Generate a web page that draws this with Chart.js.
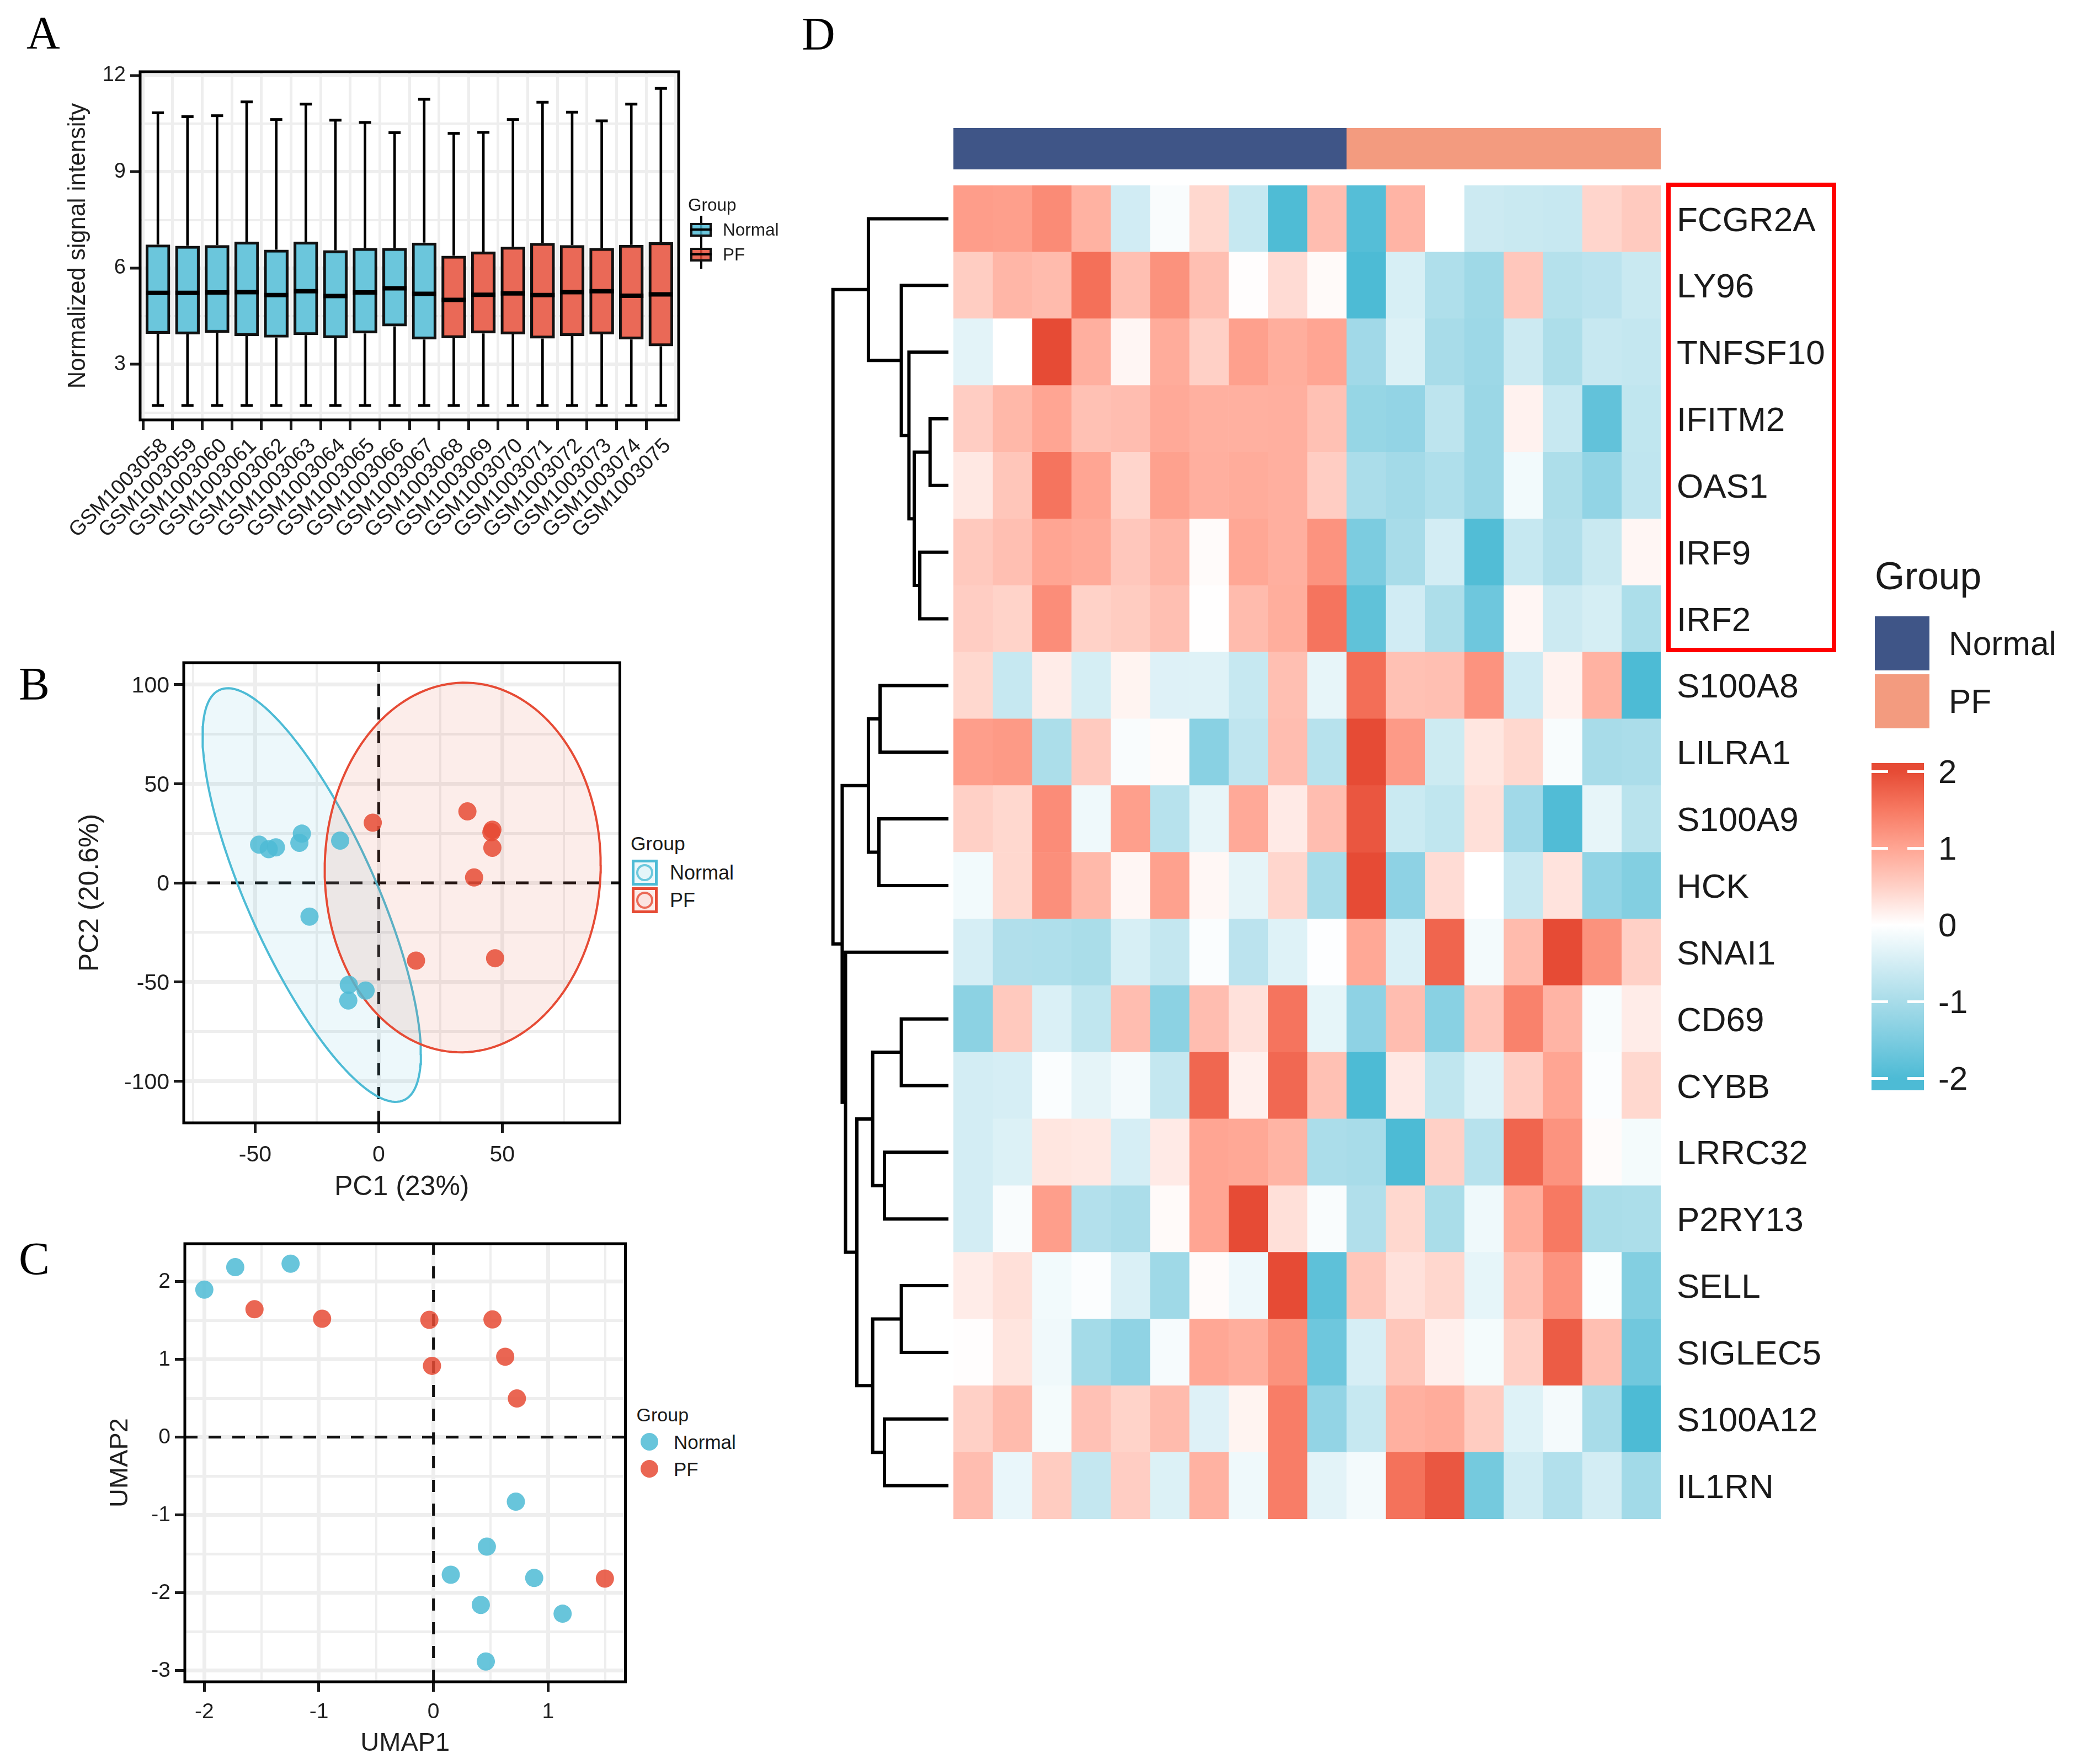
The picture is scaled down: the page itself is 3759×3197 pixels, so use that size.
<!DOCTYPE html>
<html><head><meta charset="utf-8">
<script src="https://cdn.jsdelivr.net/npm/chart.js@4/dist/chart.umd.js"></script>
<style>
html,body{margin:0;padding:0;background:#fff;width:3759px;height:3197px;overflow:hidden}
canvas{position:absolute;display:block}
.t{position:absolute;white-space:nowrap;line-height:1;transform:translateY(-50%);font-family:"Liberation Sans",Arial,sans-serif;color:#1a1a1a}
.p{position:absolute;line-height:1;font-family:"Liberation Serif","Times New Roman",serif;color:#000;font-size:84px}
.b{position:absolute;box-sizing:border-box}
</style></head><body>
<script>
// ---------- Panel A: boxplots ----------
const samples=["GSM1003058","GSM1003059","GSM1003060","GSM1003061","GSM1003062","GSM1003063","GSM1003064","GSM1003065","GSM1003066","GSM1003067","GSM1003068","GSM1003069","GSM1003070","GSM1003071","GSM1003072","GSM1003073","GSM1003074","GSM1003075"];
const normalSampleCount=10;
const whiskerHigh=[10.84,10.72,10.75,11.18,10.63,11.11,10.61,10.54,10.22,11.26,10.2,10.23,10.63,11.17,10.86,10.59,11.11,11.6];
const whiskerLow=[1.72,1.72,1.72,1.72,1.72,1.72,1.72,1.72,1.72,1.72,1.72,1.72,1.72,1.72,1.72,1.72,1.72,1.72];
const q3=[6.73,6.69,6.71,6.82,6.57,6.82,6.55,6.62,6.62,6.79,6.38,6.51,6.66,6.78,6.71,6.62,6.72,6.80];
const medians=[5.23,5.23,5.24,5.25,5.16,5.28,5.13,5.24,5.37,5.20,5.01,5.17,5.21,5.16,5.25,5.28,5.14,5.18];
const q1=[3.96,3.94,3.99,3.89,3.84,3.92,3.82,3.97,4.19,3.78,3.82,3.97,3.94,3.81,3.89,3.94,3.78,3.57];
// ---------- Panel B: PCA ----------
const pcaNormalX=[-48.4,-44.5,-41.6,-32.1,-31.1,-15.6,-28,-12.1,-5.3,-12.3];
const pcaNormalY=[19.3,17,17.9,20.2,24.8,21.3,-17,-51.4,-54.3,-59.3];
const pcaPfX=[35.9,-2.4,45.6,46,46,38.6,15.1,47.1];
const pcaPfY=[36,30.3,25.5,26.8,17.7,2.7,-39.2,-38];
// ---------- Panel C: UMAP ----------
const umapNormalX=[-2.0,-1.73,-1.247,0.719,0.466,0.151,0.879,0.413,1.127,0.457];
const umapNormalY=[1.895,2.184,2.229,-0.83,-1.408,-1.769,-1.81,-2.157,-2.27,-2.884];
const umapPfX=[-1.562,-0.972,-0.036,0.515,0.626,-0.013,0.728,1.496];
const umapPfY=[1.643,1.521,1.507,1.512,1.033,0.916,0.496,-1.819];
// ---------- Panel D: heatmap ----------
const genes=["FCGR2A","LY96","TNFSF10","IFITM2","OAS1","IRF9","IRF2","S100A8","LILRA1","S100A9","HCK","SNAI1","CD69","CYBB","LRRC32","P2RY13","SELL","SIGLEC5","S100A12","IL1RN"];
const heat=[
[1.09,1.07,1.3,.85,-.52,-.07,.42,-.65,-1.98,.72,-1.92,.82,0,-.58,-.62,-.64,.45,.57],
[.54,.8,.75,1.6,.7,1.22,.7,.02,.38,.05,-2,-.45,-.92,-1.1,.6,-.85,-.78,-.62],
[-.32,0,2,.88,.1,.92,.5,1.06,.9,1,-1.08,-.4,-1,-1.12,-.58,-.94,-.64,-.68],
[.53,.78,1,.68,.72,.95,.87,.87,.88,.68,-1.2,-1.24,-.76,-1.15,.14,-.64,-1.78,-.72],
[.25,.62,1.55,1,.45,1.05,.88,.92,.88,.53,-.97,-1.06,-.92,-1.15,-.15,-.94,-1.25,-.73],
[.58,.7,1,.94,.6,.8,.04,.98,.88,1.2,-1.5,-1,-.5,-1.95,-.65,-.9,-.62,.1],
[.53,.47,1.27,.48,.55,.7,.01,.75,.9,1.55,-1.8,-.52,-.94,-1.65,.1,-.58,-.48,-.95],
[.42,-.65,.2,-.48,.12,-.38,-.36,-.65,.7,-.27,1.62,.68,.7,1.2,-.55,.14,.85,-2],
[1.08,1.13,-.95,.57,-.07,.05,-1.35,-.73,.72,-.82,2,1.12,-.57,.27,.42,-.08,-1,-.97],
[.5,.42,1.28,-.18,1.07,-.83,-.27,.95,.22,.72,1.88,-.6,-.72,.33,-1.08,-1.96,-.27,-.8],
[-.15,.42,1.25,.77,.1,1.05,.09,-.3,.44,-1,2,-1.3,.37,0,-.64,.3,-1.25,-1.42],
[-.47,-.9,-.92,-.98,-.45,-.68,-.06,-.78,-.37,-.02,.97,-.42,1.72,-.14,.75,2,1.22,.5],
[-1.32,.58,-.42,-.72,.72,-1.32,.72,.32,1.55,-.28,-1.3,.72,-1.35,.63,1.4,.82,-.08,.2],
[-.5,-.47,-.06,-.3,-.13,-.68,1.7,.16,1.68,.68,-2,.24,-.72,-.36,.52,1,-.05,.42],
[-.5,-.4,.27,.25,-.47,.22,1,.97,.83,-.97,-1,-2,.5,-.82,1.72,1.2,.04,-.12],
[-.5,-.07,1.08,-.87,-.97,.05,1,2,.33,-.07,-.9,.42,-.98,-.18,.9,1.5,-.98,-.95],
[.2,.33,-.15,-.05,-.42,-1.1,.04,-.2,2,-1.82,.62,.32,.43,-.28,.7,1.2,-.04,-1.42],
[.02,.28,-.17,-1.04,-1.27,-.1,.98,.9,1.22,-1.65,-.47,.62,.17,-.12,.5,1.82,.7,-1.62],
[.5,.75,-.12,.67,.47,.75,-.38,.12,1.45,-1.24,-.65,.87,.92,.55,-.37,-.13,-1,-2],
[.72,-.25,.55,-.67,.53,-.4,.85,-.18,1.45,-.32,-.14,1.58,1.87,-1.57,-.53,-.88,-.5,-1.07]];
const groupColumns=[10,8];
// Merge heights of the gene dendrogram: [height, upper child, lower child]; a number is a row.
const dendroTree=[10,[6.93,0,[4.08,1,[3.42,2,[2.96,[1.59,3,4],[2.48,5,6]]]]],
 [9.2,[6.93,[5.92,7,8],[6.02,9,10]],[8.91,11,[7.93,[6.56,[4.08,12,13],[5.54,14,15]],[6.56,[4.08,16,17],[5.54,18,19]]]]]];
const colorbarTicks=[-2,-1,0,1,2];
const colorbarRange=[-2.158,2.108];
// Colour ramp of the heatmap.
const rampZ=[-2,-1.5,-1,-.5,0,.5,1,1.5,2];
const rampRGB=[[77,187,213],[124,204,224],[168,220,233],[211,237,244],[255,255,255],[255,208,198],[255,165,147],[247,121,98],[230,75,53]];

const BLUE='#4DBBD5',RED='#E64B35',NAVY='#3F5587',SALMON='#F39B7F';
const SANS='"Liberation Sans",Arial,sans-serif';
const GRID='#EEEEEE',INK='#1f1f1f';
Chart.defaults.font.family=SANS;

function rgba(h,a){const n=parseInt(h.slice(1),16);return `rgba(${n>>16},${(n>>8)&255},${n&255},${a})`;}
function heatColor(z){const v=Math.max(-2,Math.min(2,z));let i=0;while(i<rampZ.length-2&&v>rampZ[i+1])i++;
 const f=(v-rampZ[i])/(rampZ[i+1]-rampZ[i]);
 return `rgb(${rampRGB[i].map((c,k)=>Math.round(c+(rampRGB[i+1][k]-c)*f)).join(',')})`;}
function zip(xs,ys){return xs.map((x,i)=>({x,y:ys[i]}));}
function el(cls,css,text){const d=document.createElement('div');d.className=cls;Object.assign(d.style,css);if(text!=null)d.textContent=text;document.body.appendChild(d);return d;}
function txt(s,x,y,size){return el('t',{left:x+'px',top:y+'px',fontSize:size+'px'},s);}
function box(x,y,w,h,css){return el('b',Object.assign({left:x+'px',top:y+'px',width:w+'px',height:h+'px'},css));}

function panel(rect,plot,cfg,framed){
 const c=document.createElement('canvas');
 const W=rect.r-rect.l,H=rect.b-rect.t;c.width=W;c.height=H;
 c.style.left=rect.l+'px';c.style.top=rect.t+'px';c.style.width=W+'px';c.style.height=H+'px';
 document.body.appendChild(c);
 const s=cfg.options.scales;
 const zero=a=>{a.paddingLeft=a.paddingRight=a.paddingTop=a.paddingBottom=0;};
 for(const k of Object.keys(s)){const a=s[k];
  if(a.display===false) continue;
  a.afterFit=sc=>{zero(sc);
   if(sc.isHorizontal()) sc.height=rect.b-plot.b;
   else sc.width=(a.position==='right')?rect.r-plot.r:plot.l-rect.l;};
 }
 const yRight=s.y&&s.y.position==='right'&&s.y.display!==false;
 const yShown=s.y&&s.y.display!==false;
 const xShown=s.x&&s.x.display!==false;
 cfg.options=Object.assign({responsive:false,animation:false,devicePixelRatio:1,maintainAspectRatio:false,
   layout:{padding:{top:plot.t-rect.t,
     bottom:xShown?0:rect.b-plot.b,
     left:(yShown&&!yRight)?0:plot.l-rect.l,
     right:yRight?0:rect.r-plot.r}}},cfg.options);
 cfg.options.plugins=Object.assign({legend:{display:false},tooltip:{enabled:false}},cfg.options.plugins||{});
 cfg.plugins=cfg.plugins||[];
 if(framed) cfg.plugins.push({id:'frame',afterDraw(ch){const a=ch.chartArea,g=ch.ctx;g.save();g.lineWidth=5;g.strokeStyle='#000';g.strokeRect(a.left,a.top,a.right-a.left,a.bottom-a.top);g.restore();}});
 return new Chart(c,cfg);
}
function axis(o){
 const major=v=>o.major.some(m=>Math.abs(m-v)<1e-6);
 return {type:'linear',min:o.min,max:o.max,position:o.position,
  afterBuildTicks:s=>{s.ticks=o.values.map(v=>({value:v}));},
  ticks:{autoSkip:false,includeBounds:false,font:{size:o.size},color:INK,padding:o.padding,labelOffset:o.shift||0,
   minRotation:o.rot||0,maxRotation:o.rot||0,
   callback:o.label||(v=>major(v)?String(v):'')},
  grid:{color:GRID,lineWidth:c=>c.tick&&major(c.tick.value)?o.mw:o.nw,
   tickLength:18,tickWidth:5,tickColor:c=>c.tick&&major(c.tick.value)?'#1a1a1a':'rgba(0,0,0,0)'},
  border:{display:false},
  title:o.title?{display:true,text:o.title,font:{size:o.tsize},color:INK,padding:{top:0,bottom:0}}:{display:false}};
}
function refs(xr,yr){return [
 {type:'scatter',order:9,showLine:true,data:[{x:xr[0],y:0},{x:xr[1],y:0}],borderColor:'#111',borderWidth:5,borderDash:[23,20],pointRadius:0},
 {type:'scatter',order:9,showLine:true,data:[{x:0,y:yr[0]},{x:0,y:yr[1]}],borderColor:'#111',borderWidth:5,borderDash:[22,21],pointRadius:0}];}
function dots(pts,color,order){return {type:'scatter',order,data:pts,backgroundColor:rgba(color,.85),borderWidth:0,pointRadius:16.5};}

// ------- Panel A -------
{
 const idx=samples.map((_,i)=>i+1);
 const fills=samples.map((_,i)=>rgba(i<normalSampleCount?BLUE:RED,.83));
 panel({l:116,t:100,r:1260,b:1010},{l:254,t:127,r:1232,b:761},{type:'bar',
  data:{datasets:[
   {order:4,grouped:false,barThickness:4,backgroundColor:'#000',data:idx.map((x,i)=>({x,y:[whiskerLow[i],whiskerHigh[i]]}))},
   {type:'scatter',order:4,data:zip(idx,whiskerHigh),pointStyle:'line',pointRadius:11,pointBorderWidth:5,pointBorderColor:'#000'},
   {type:'scatter',order:4,data:zip(idx,whiskerLow),pointStyle:'line',pointRadius:11,pointBorderWidth:5,pointBorderColor:'#000'},
   {order:2,grouped:false,barThickness:44,backgroundColor:'#fff',borderWidth:0,data:idx.map((x,i)=>({x,y:[q1[i],q3[i]]}))},
   {order:1,grouped:false,barThickness:44,backgroundColor:fills,borderColor:'#111',borderWidth:5,borderSkipped:false,data:idx.map((x,i)=>({x,y:[q1[i],q3[i]]}))},
   {type:'scatter',order:0,data:zip(idx,medians),pointStyle:'line',pointRadius:22,pointBorderWidth:8,pointBorderColor:'#000'}
  ]},
  options:{scales:{
   x:Object.assign(axis({min:.4,max:18.6,values:idx,major:idx,size:38,padding:7,rot:45,shift:12,mw:5,nw:5,label:v=>samples[v-1]}),{offset:false}),
   y:axis({min:1.27,max:12.12,values:[1.5,3,4.5,6,7.5,9,10.5,12],major:[3,6,9,12],size:38,padding:8,mw:6,nw:4,title:'Normalized signal intensity',tsize:43.5})
  }}},true);
 txt('Group',1247,372,31.5);
 [[404,BLUE,'Normal',417],[449,RED,'PF',462]].forEach(([y,c,s,ty])=>{
  box(1269,y-13,4,51,{background:'#000'});
  box(1251,y,39,25,{background:rgba(c,.83),border:'4px solid #111'});
  box(1251,y+10,39,4,{background:'#000'});
  txt(s,1310,ty,31.5);
 });
}
// ------- ellipse from a group's covariance -------
const ELLIPSE_K={10:2.92,8:3.08};
function ellipse(xs,ys){
 const n=xs.length,mx=xs.reduce((a,b)=>a+b)/n,my=ys.reduce((a,b)=>a+b)/n;
 let sxx=0,syy=0,sxy=0;xs.forEach((x,i)=>{sxx+=(x-mx)**2;syy+=(ys[i]-my)**2;sxy+=(x-mx)*(ys[i]-my);});
 const sx=Math.sqrt(sxx/(n-1)),sy=Math.sqrt(syy/(n-1)),r=sxy/Math.sqrt(sxx*syy),k=ELLIPSE_K[n],out=[];
 for(let i=0;i<=160;i++){const t=i/160*2*Math.PI;
  out.push({x:mx+k*sx*Math.cos(t),y:my+k*sy*(r*Math.cos(t)+Math.sqrt(1-r*r)*Math.sin(t))});}
 return out;
}
function ell(xs,ys,c,order){return {type:'scatter',order,showLine:true,tension:0,fill:'shape',data:ellipse(xs,ys),borderColor:c,borderWidth:4,backgroundColor:rgba(c,.1),pointRadius:0};}
// ------- Panel B -------
{
 const xr=[-78.9,97.6],yr=[-121,111];
 panel({l:134,t:1180,r:1140,b:2182},{l:333,t:1201,r:1125,b:2035},{type:'scatter',
  data:{datasets:[...refs(xr,yr),
   ell(pcaNormalX,pcaNormalY,BLUE,6),ell(pcaPfX,pcaPfY,RED,5),
   dots(zip(pcaNormalX,pcaNormalY),BLUE,2),dots(zip(pcaPfX,pcaPfY),RED,1)]},
  options:{scales:{
   x:axis({min:xr[0],max:xr[1],values:[-75,-50,-25,0,25,50,75],major:[-50,0,50],size:41,padding:16,mw:7,nw:4,title:'PC1 (23%)',tsize:50}),
   y:axis({min:yr[0],max:yr[1],values:[-100,-75,-50,-25,0,25,50,75,100],major:[-100,-50,0,50,100],size:41,padding:8,shift:3,mw:7,nw:5,title:'PC2 (20.6%)',tsize:50})
  }}},true);
 txt('Group',1143,1529.5,35.5);
 [[1558,BLUE,'Normal',1582],[1608,RED,'PF',1631.5]].forEach(([y,c,s,ty])=>{
  box(1145,y,47,47,{background:rgba(c,.1),border:`5px solid ${c}`});
  box(1153,y+8,31,31,{background:rgba(c,.05),border:`4px solid ${rgba(c,.8)}`,borderRadius:'50%'});
  txt(s,1214,ty,36);
 });
}
// ------- Panel C -------
{
 const xr=[-2.17,1.675],yr=[-3.145,2.486];
 panel({l:190,t:2230,r:1150,b:3188},{l:335,t:2254,r:1136,b:3048},{type:'scatter',
  data:{datasets:[...refs(xr,yr),dots(zip(umapNormalX,umapNormalY),BLUE,2),dots(zip(umapPfX,umapPfY),RED,1)]},
  options:{scales:{
   x:axis({min:xr[0],max:xr[1],values:[-2,-1.5,-1,-.5,0,.5,1,1.5],major:[-2,-1,0,1],size:39,padding:14,mw:7,nw:4,title:'UMAP1',tsize:47}),
   y:axis({min:yr[0],max:yr[1],values:[-3,-2.5,-2,-1.5,-1,-.5,0,.5,1,1.5,2],major:[-3,-2,-1,0,1,2],size:39,padding:8,shift:1,mw:7,nw:5,title:'UMAP2',tsize:47})
  }}},true);
 txt('Group',1153.6,2563.6,34);
 [[2613,BLUE,'Normal'],[2662,RED,'PF']].forEach(([y,c,s])=>{
  box(1161,y-16,32,32,{background:rgba(c,.85),borderRadius:'50%'});
  txt(s,1221,y,35);
 });
}
// ------- Panel D: annotation bar -------
{
 const R={l:1728,t:232,r:3010,b:307};
 panel(R,R,{type:'bar',
  data:{labels:['Group'],datasets:[
   {grouped:false,data:[[0,groupColumns[0]]],backgroundColor:NAVY},
   {grouped:false,data:[[groupColumns[0],groupColumns[0]+groupColumns[1]]],backgroundColor:SALMON}]},
  options:{indexAxis:'y',datasets:{bar:{barPercentage:1,categoryPercentage:1}},
   scales:{x:{type:'linear',display:false,min:0,max:18},y:{display:false}}}});
}
// ------- Panel D: heatmap -------
{
 const R={l:1728,t:336,r:3340,b:2753},P={l:1728,t:336,r:3010,b:2753};
 const cols=heat[0].map((_,c)=>({grouped:false,barPercentage:1,categoryPercentage:1,borderWidth:0,
   data:genes.map(()=>[c,c+1]),backgroundColor:heat.map(row=>heatColor(row[c]))}));
 panel(R,P,{type:'bar',data:{labels:genes,datasets:cols},
  options:{indexAxis:'y',scales:{
   x:{type:'linear',display:false,min:0,max:18},
   y:{position:'right',grid:{display:false,drawTicks:false},border:{display:false},
      ticks:{autoSkip:false,padding:29,labelOffset:5,color:'#1a1a1a',font:{size:62}}}}}});
}
// ------- Panel D: dendrogram -------
{
 const segs=[];
 const walk=n=>{ if(typeof n==='number') return {h:0,y:n+.5};
  const a=walk(n[1]),b=walk(n[2]);
  segs.push({x:a.h,y:a.y},{x:n[0],y:a.y},{x:n[0],y:b.y},{x:b.h,y:b.y},{x:NaN,y:NaN});
  return {h:n[0],y:(a.y+b.y)/2};};
 walk(dendroTree);
 const R={l:1490,t:336,r:1719,b:2753};
 panel(R,R,{type:'scatter',data:{datasets:[{showLine:true,spanGaps:false,tension:0,data:segs,borderColor:'#000',borderWidth:6,borderCapStyle:'square',borderJoinStyle:'miter',pointRadius:0}]},
  options:{scales:{x:{type:'linear',display:false,reverse:true,min:0,max:10.94},y:{type:'linear',display:false,reverse:true,min:0,max:20}}}});
}
// ------- Panel D: colour bar -------
{
 const R={l:3392,t:1340,r:3590,b:2010},P={l:3392,t:1383,r:3487,b:1976};
 panel(R,P,{type:'bar',data:{labels:['z'],datasets:[{barPercentage:1,categoryPercentage:1,data:[colorbarRange],
    backgroundColor:c=>{const a=c.chart.chartArea;if(!a)return '#fff';const y=c.chart.scales.y,g=c.chart.ctx.createLinearGradient(0,y.getPixelForValue(2),0,y.getPixelForValue(-2));
      rampZ.forEach(v=>g.addColorStop((2-v)/4,heatColor(v)));return g;}}]},
  options:{scales:{x:{display:false},
   y:{type:'linear',position:'right',min:colorbarRange[0],max:colorbarRange[1],
    afterBuildTicks:s=>{s.ticks=colorbarTicks.map(v=>({value:v}));},
    grid:{z:1,color:'#fff',lineWidth:5,drawTicks:false},border:{display:false,dash:[30,35]},
    ticks:{padding:26,labelOffset:4,color:'#1a1a1a',font:{size:60},callback:v=>String(v)}}}}});
}
// ------- Panel D: legend, highlight box, letters -------
txt('Group',3398,1045,69.5);
box(3398,1117,99,98,{background:NAVY});
box(3398,1222,99,98,{background:SALMON});
txt('Normal',3532,1166,60.5);
txt('PF',3532,1271,60.5);
box(3020,331,308,851,{border:'8px solid #FF0000'});
[['A',48,18],['B',34,1198],['C',34,2240],['D',1453,20]].forEach(([s,x,y])=>el('p',{left:x+'px',top:y+'px'},s));
</script>
</body></html>
